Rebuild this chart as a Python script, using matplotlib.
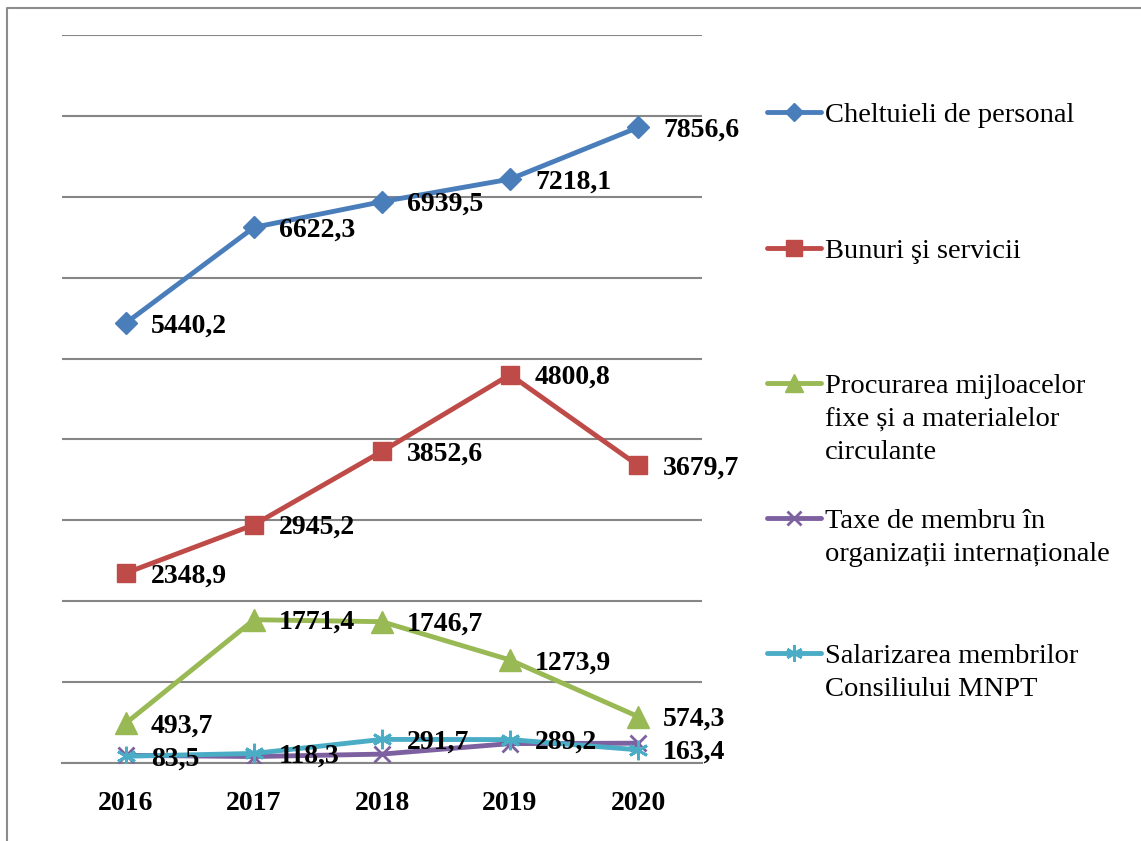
import matplotlib
matplotlib.use("Agg")
import matplotlib.pyplot as plt
from matplotlib.lines import Line2D

plt.rcParams["font.family"] = ["Liberation Serif", "DejaVu Serif"]

W, H = 1141, 841

years = ["2016", "2017", "2018", "2019", "2020"]

personal = [5440.2, 6622.3, 6939.5, 7218.1, 7856.6]
bunuri = [2348.9, 2945.2, 3852.6, 4800.8, 3679.7]
procurarea = [493.7, 1771.4, 1746.7, 1273.9, 574.3]
taxe = [95, 80, 110, 240, 245]          # no labels in the source
salarizarea = [83.5, 118.3, 291.7, 289.2, 163.4]

labels = [
    "Cheltuieli de personal",
    "Bunuri şi servicii",
    "Procurarea mijloacelor\nfixe și a materialelor\ncirculante",
    "Taxe de membru în\norganizații internaționale",
    "Salarizarea membrilor\nConsiliului MNPT",
]

series = [personal, bunuri, procurarea, taxe, salarizarea]
colors = ["#4A7EBB", "#BE4B48", "#98B954", "#7D60A0", "#4BACC6"]
markers = ["D", "s", "^", "x", (6, 2, 0)]
msizes = [11, 13, 16, 12, 14]
show_labels = [True, True, True, False, True]


def px(x, y):
    return x / W, 1 - y / H


def edge_width(m):
    return 2 if m == "x" or isinstance(m, tuple) else 1


fig = plt.figure(figsize=(W / 100, H / 100), dpi=100)
ax = fig.add_axes([62 / W, (H - 763) / H, 640 / W, 728 / H])

xs = list(range(len(years)))
for vals, c, m, ms in zip(series, colors, markers, msizes):
    ax.plot(xs, vals, color=c, lw=3.5, marker=m, markersize=ms,
            markeredgewidth=edge_width(m), markeredgecolor=c,
            markerfacecolor=c, solid_capstyle="round", zorder=3)

for vals, show in zip(series, show_labels):
    if not show:
        continue
    for x, v in zip(xs, vals):
        ax.annotate(f"{v:.1f}".replace(".", ","), (x, v), xytext=(18, -2),
                    textcoords="offset points", ha="left", va="center",
                    fontsize=20, fontweight="bold", zorder=5)

ax.set_xlim(-0.5, 4.5)
ax.set_ylim(0, 9000)
ax.set_yticks(range(0, 9001, 1000))
ax.set_yticklabels([])
ax.grid(axis="y", color="#868686", lw=1.5)
ax.set_axisbelow(True)
for s in ["top", "right", "left"]:
    ax.spines[s].set_visible(False)
ax.spines["bottom"].set_color("#868686")
ax.spines["bottom"].set_linewidth(1.5)
ax.set_xticks(xs)
ax.set_xticklabels(years, fontsize=20, fontweight="bold")
ax.tick_params(length=0, pad=20)

# legend, drawn by hand to keep the wide spacing of the original
legend_y = [112, 248, 383, 518, 653]
for y, lab, c, m, ms in zip(legend_y, labels, colors, markers, msizes):
    x0, y0 = px(767, y)
    x1, _ = px(821, y)
    xm, _ = px(794, y)
    fig.add_artist(Line2D([x0, x1], [y0, y0], color=c, lw=3.5, solid_capstyle="round"))
    fig.add_artist(Line2D([xm], [y0], color=c, marker=m, markersize=ms * 0.85,
                          markeredgewidth=edge_width(m),
                          markeredgecolor=c, markerfacecolor=c))
    for i, line in enumerate(lab.split("\n")):
        tx, ty = px(825, y + 10 + i * 33)
        fig.text(tx, ty, line, fontsize=20.5, va="baseline", ha="left")

# outer frame (only top and left edges are inside the picture)
fig.add_artist(Line2D([7 / W, 7 / W, 1.0], [0.0, 1 - 8 / H, 1 - 8 / H],
                      color="#8C8C8C", lw=1.5))

fig.savefig("out.png", dpi=100)
